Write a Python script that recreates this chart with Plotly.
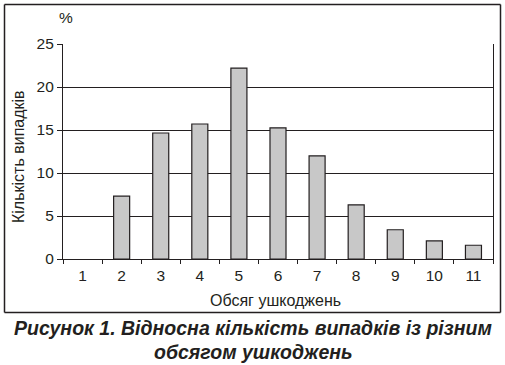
import plotly.graph_objects as go

categories = ["1", "2", "3", "4", "5", "6", "7", "8", "9", "10", "11"]
values = [None, 7.3, 14.65, 15.7, 22.2, 15.25, 12.0, 6.3, 3.4, 2.1, 1.6]
y_ticks = [0, 5, 10, 15, 20, 25]

FONT = "Liberation Sans, Arial, sans-serif"
TXT = "#231f20"

fig = go.Figure()
fig.add_trace(go.Bar(
    x=categories, y=values,
    marker=dict(color="#c8c8c8", line=dict(color="#231f20", width=1.2)),
    width=0.41,
))

L, R, T, B = 63, 12, 44, 106
W, H = 505, 365
pw, ph = W - L - R, H - T - B

def px(x):
    return (x - L) / pw

def py(y):
    return (H - B - y) / ph

bx0, bx1, by0, by1 = px(4.5), px(500.5), py(312.5), py(4.5)
box = [
    (bx0, by0, bx0, by1),
    (bx1, by0, bx1, by1),
    (bx0, by0, bx1, by0),
    (bx0, by1, bx1, by1),
]

fig.update_layout(
    width=W, height=H,
    margin=dict(l=L, r=R, t=T, b=B, pad=0),
    paper_bgcolor="white", plot_bgcolor="white",
    showlegend=False,
    font=dict(family=FONT, color=TXT, size=15.5),
    xaxis=dict(
        type="category", tickson="boundaries", ticks="outside", ticklen=4,
        tickcolor=TXT, showline=True, linecolor=TXT, linewidth=1.2,
        showgrid=False, automargin=False, ticklabelstandoff=2,
        tickfont=dict(size=15.5, family=FONT, color=TXT),
    ),
    yaxis=dict(
        range=[0, 25], tickvals=y_ticks, ticks="outside", ticklen=5, tickcolor=TXT,
        showline=True, linecolor=TXT, linewidth=1.2, mirror=True,
        showgrid=True, gridcolor=TXT, gridwidth=1.2, zeroline=False, automargin=False,
        tickfont=dict(size=15.5, family=FONT, color=TXT),
    ),
    shapes=[
        dict(type="line", xref="paper", yref="paper", layer="above",
             x0=a, y0=b, x1=c, y1=d, line=dict(color=TXT, width=1.5))
        for a, b, c, d in box
    ],
    annotations=[
        dict(text="%", xref="paper", yref="paper", x=px(66), y=py(17),
             xanchor="center", yanchor="middle",
             showarrow=False, font=dict(size=15.5, family=FONT, color=TXT)),
        dict(text="Обсяг ушкоджень", xref="paper", yref="paper", x=px(275), y=py(300),
             xanchor="center", yanchor="middle",
             showarrow=False, font=dict(size=16, family=FONT, color=TXT)),
        dict(text="Кількість випадків", xref="paper", yref="paper", x=px(18.5), y=py(156.5),
             xanchor="center", yanchor="middle", textangle=-90,
             showarrow=False, font=dict(size=16, family=FONT, color=TXT)),
        dict(text="<b><i>Рисунок 1. Відносна кількість випадків із різним</i></b>",
             xref="paper", yref="paper", x=px(253), y=py(328), showarrow=False,
             xanchor="center", yanchor="middle",
             font=dict(size=19.5, family=FONT, color=TXT)),
        dict(text="<b><i>обсягом ушкоджень</i></b>",
             xref="paper", yref="paper", x=px(253), y=py(352), showarrow=False,
             xanchor="center", yanchor="middle",
             font=dict(size=19.5, family=FONT, color=TXT)),
    ],
)

fig.write_html("out.html", config={"displayModeBar": False},
               post_script="document.body.style.margin='0px';")
